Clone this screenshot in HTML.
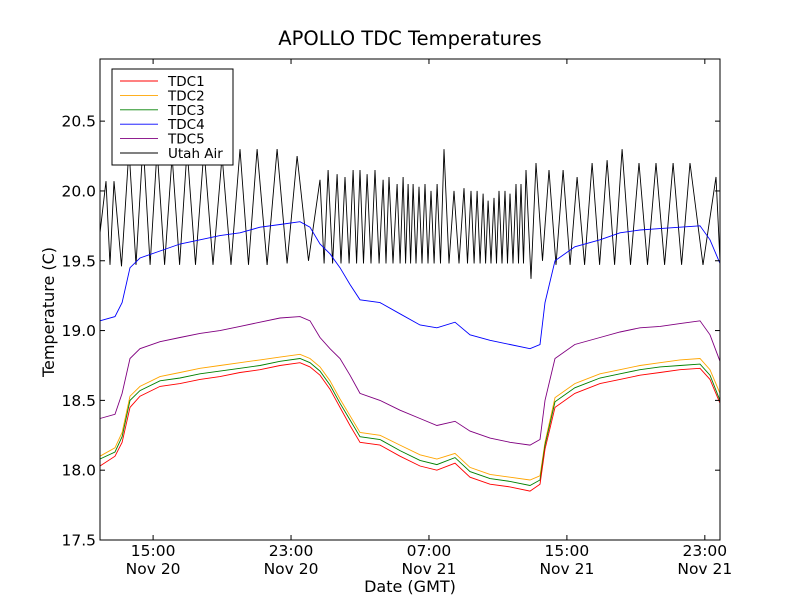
<!DOCTYPE html>
<html><head><meta charset="utf-8"><style>
body{margin:0;background:#fff}
svg text{font-family:"DejaVu Sans","Liberation Sans",sans-serif}
</style></head><body>
<svg id="chart" width="800" height="600" xmlns="http://www.w3.org/2000/svg">
<rect width="800" height="600" fill="#fff"/>
<text x="410" y="45" font-size="19.5" text-anchor="middle">APOLLO TDC Temperatures</text>
<g id="plot"></g>
<rect x="100" y="59" width="620" height="481" fill="none" stroke="#000" stroke-width="1"/>
<g id="axes"></g>
<text transform="translate(54,312) rotate(-90)" font-size="16" text-anchor="middle">Temperature (C)</text>
<text x="410" y="592" font-size="16" text-anchor="middle">Date (GMT)</text>
<g>
<rect x="112" y="69" width="121" height="96" fill="#fff" stroke="#000" stroke-width="1"/>
<g id="legend"></g>
</g>
</svg>
<script>
const times=[11.92,12.79,13.20,13.66,14.24,15.40,16.56,17.72,18.88,20.04,21.20,22.36,23.52,24.10,24.68,25.26,25.84,26.42,27.00,28.16,29.32,30.48,31.46,32.51,33.38,34.54,35.70,36.86,37.44,37.73,38.31,39.46,40.92,42.08,43.24,44.40,45.56,46.72,47.30,47.88];
const tdc1=[18.03,18.1,18.2,18.45,18.53,18.6,18.62,18.65,18.67,18.7,18.72,18.75,18.77,18.74,18.68,18.58,18.45,18.32,18.2,18.18,18.1,18.03,18.0,18.05,17.95,17.9,17.88,17.85,17.9,18.15,18.45,18.55,18.62,18.65,18.68,18.7,18.72,18.73,18.65,18.48];
const tdc2=[18.1,18.16,18.27,18.53,18.6,18.67,18.7,18.73,18.75,18.77,18.79,18.81,18.83,18.8,18.74,18.64,18.51,18.39,18.27,18.25,18.18,18.11,18.08,18.12,18.02,17.97,17.95,17.93,17.96,18.2,18.52,18.62,18.69,18.72,18.75,18.77,18.79,18.8,18.72,18.55];
const tdc3=[18.08,18.13,18.24,18.5,18.57,18.64,18.66,18.69,18.71,18.73,18.75,18.78,18.8,18.77,18.71,18.61,18.48,18.36,18.24,18.22,18.14,18.07,18.04,18.09,17.99,17.94,17.92,17.89,17.93,18.18,18.49,18.59,18.66,18.69,18.72,18.74,18.75,18.76,18.68,18.5];
const tdc4=[19.07,19.1,19.2,19.45,19.52,19.57,19.62,19.65,19.68,19.7,19.74,19.76,19.78,19.74,19.62,19.55,19.45,19.33,19.22,19.2,19.12,19.04,19.02,19.06,18.97,18.93,18.9,18.87,18.9,19.2,19.5,19.6,19.65,19.7,19.72,19.73,19.74,19.75,19.65,19.48];
const tdc5=[18.37,18.4,18.55,18.8,18.87,18.92,18.95,18.98,19.0,19.03,19.06,19.09,19.1,19.07,18.95,18.87,18.8,18.68,18.55,18.5,18.43,18.37,18.32,18.35,18.28,18.23,18.2,18.18,18.22,18.5,18.8,18.9,18.95,18.99,19.02,19.03,19.05,19.07,18.97,18.78];
const airPeakTimes=[12.27,12.73,13.60,14.42,15.23,16.10,16.97,17.95,19.00,20.04,21.03,22.19,23.35,24.68,25.15,25.67,26.13,26.60,27.00,27.41,27.87,28.34,28.68,29.15,29.50,29.79,30.08,30.42,30.77,31.12,31.47,31.87,32.45,33.03,33.44,33.79,34.14,34.43,34.77,35.06,35.41,35.70,36.05,36.34,36.63,37.21,37.96,38.78,39.59,40.46,41.33,42.20,43.18,44.17,45.16,46.14,47.65];
const airPeaks=[20.07,20.07,20.3,20.35,20.3,20.25,20.3,20.3,20.25,20.3,20.3,20.3,20.25,20.08,20.15,20.12,20.1,20.15,20.15,20.12,20.15,20.08,20.1,20.05,20.1,20.05,20.05,20.03,20.05,20.0,20.05,20.3,20.0,20.02,20.0,20.0,19.98,19.93,19.95,20.0,20.0,19.98,20.05,20.05,20.15,20.2,20.15,20.15,20.1,20.2,20.22,20.3,20.2,20.2,20.2,20.2,20.1];
const airTroughs=[19.47,19.46,19.47,19.47,19.47,19.47,19.47,19.47,19.47,19.47,19.47,19.48,19.5,19.48,19.48,19.48,19.48,19.48,19.48,19.48,19.48,19.48,19.48,19.48,19.48,19.48,19.48,19.48,19.48,19.48,19.48,19.48,19.48,19.48,19.48,19.48,19.48,19.48,19.48,19.48,19.48,19.48,19.48,19.48,19.37,19.5,19.47,19.47,19.47,19.47,19.47,19.47,19.47,19.47,19.47,19.47];
const airStart=[11.92,19.7];
const airEnd=[47.88,19.5];
const yTicks=[17.5,18.0,18.5,19.0,19.5,20.0,20.5];
const xTickHours=[15,23,31,39,47];
const xTickTimes=["15:00","23:00","07:00","15:00","23:00"];
const xTickDates=["Nov 20","Nov 20","Nov 21","Nov 21","Nov 21"];

const X0=100,X1=720,Y0=540,Y1=59,TMIN=11.92,TMAX=47.88,VMIN=17.5,VMAX=20.945;
const xs=t=>X0+(t-TMIN)/(TMAX-TMIN)*(X1-X0);
const ys=v=>Y0-(v-VMIN)/(VMAX-VMIN)*(Y0-Y1);
const NS="http://www.w3.org/2000/svg";
const plot=document.getElementById('plot');
function line(pts,color,name){
  const p=document.createElementNS(NS,'polyline');
  p.setAttribute('points',pts.map(q=>xs(q[0]).toFixed(1)+','+ys(q[1]).toFixed(1)).join(' '));
  p.setAttribute('fill','none');p.setAttribute('stroke',color);p.setAttribute('stroke-width','0.9');
  
  
  plot.appendChild(p);
}
const airPts=[airStart];
airPeakTimes.forEach((t,i)=>{airPts.push([t,airPeaks[i]]);if(i<airTroughs.length)airPts.push([(t+airPeakTimes[i+1])/2,airTroughs[i]]);});
airPts.push(airEnd);
line(airPts,'#000','series-utah-air');
line(times.map((t,i)=>[t,tdc4[i]]),'#0000ff','series-tdc4');
line(times.map((t,i)=>[t,tdc5[i]]),'#800080','series-tdc5');
line(times.map((t,i)=>[t,tdc2[i]]),'#ffa500','series-tdc2');
line(times.map((t,i)=>[t,tdc3[i]]),'#008000','series-tdc3');
line(times.map((t,i)=>[t,tdc1[i]]),'#ff0000','series-tdc1');

const axes=document.getElementById('axes');
yTicks.forEach(v=>{
  const y=ys(v);
  const g=document.createElementNS(NS,'g');
  
  
  g.innerHTML=`<line x1="100" x2="105" y1="${y}" y2="${y}" stroke="#000"/><line x1="715" x2="720" y1="${y}" y2="${y}" stroke="#000"/><text x="96" y="${y+5.5}" font-size="15.5" text-anchor="end">${v.toFixed(1)}</text>`;
  axes.appendChild(g);
});
xTickHours.forEach((h,i)=>{
  const x=xs(h);
  const g=document.createElementNS(NS,'g');
  
  
  g.innerHTML=`<line x1="${x}" x2="${x}" y1="540" y2="535" stroke="#000"/><line x1="${x}" x2="${x}" y1="59" y2="64" stroke="#000"/><text x="${x}" y="556" font-size="15.5" text-anchor="middle">${xTickTimes[i]}</text><text x="${x}" y="574" font-size="15.5" text-anchor="middle">${xTickDates[i]}</text>`;
  axes.appendChild(g);
});
const legNames=["TDC1","TDC2","TDC3","TDC4","TDC5","Utah Air"];
const legColors=["#ff0000","#ffa500","#008000","#0000ff","#800080","#000"];
const leg=document.getElementById('legend');
legNames.forEach((n,i)=>{
  const y=81+i*14.4;
  const g=document.createElementNS(NS,'g');
  
  
  g.innerHTML=`<line x1="120" x2="158" y1="${y}" y2="${y}" stroke="${legColors[i]}" stroke-width="0.9"/><text x="168" y="${y+5}" font-size="13.5">${n}</text>`;
  leg.appendChild(g);
});
</script>
</body></html>
